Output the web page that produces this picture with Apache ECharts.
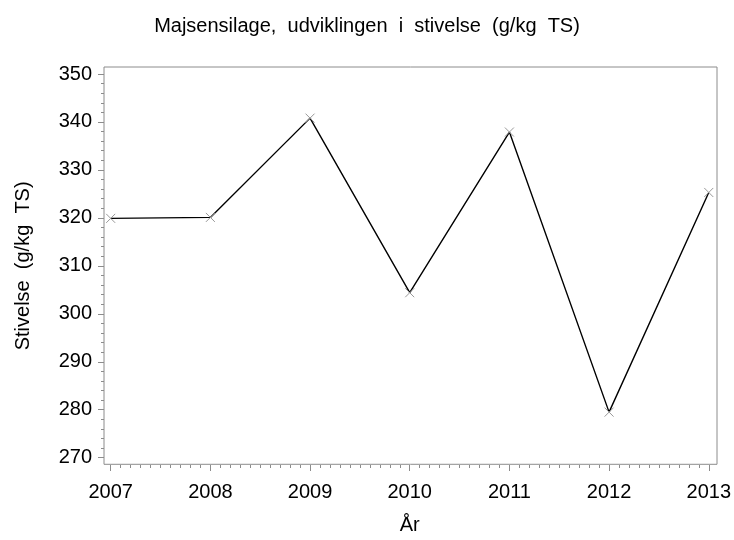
<!DOCTYPE html>
<html>
<head>
<meta charset="utf-8">
<script src="https://cdn.jsdelivr.net/npm/echarts@6/dist/echarts.min.js"></script>
<style>
  html, body { margin: 0; padding: 0; background: #fff; }
  #chart { width: 734px; height: 540px; }
</style>
</head>
<body>
<div id="chart"></div>
<script>
// data
var years = [2007, 2008, 2009, 2010, 2011, 2012, 2013];
var starch = [319.9, 320.1, 340.8, 304.4, 337.9, 279.5, 325.3];

var titleText = 'Majsensilage,  udviklingen  i  stivelse  (g/kg  TS)';
var yName = 'Stivelse  (g/kg  TS)';
var xName = 'År';

var font = 'Liberation Sans, Arial, sans-serif';
var grey = '#8c8c8c';

var points = years.map(function (y, i) { return [y, starch[i]]; });

var myChart = echarts.init(document.getElementById('chart'));

var option = {
  animation: false,
  backgroundColor: '#fff',
  title: {
    text: titleText,
    left: 'center',
    top: 11,
    textStyle: { fontFamily: font, fontSize: 20, fontWeight: 'normal', color: '#000' }
  },
  grid: [
    // data grid: 2007..2013 x 270..350
    { left: 110.7, right: 23.3, top: 74, bottom: 82.3 },
    // frame only
    { left: 104, right: 17, top: 67, bottom: 75.7, show: true, borderColor: grey, borderWidth: 1 }
  ],
  xAxis: [{
    type: 'value',
    gridIndex: 0,
    min: 2007,
    max: 2013,
    interval: 1,
    offset: 7.3,
    name: xName,
    nameLocation: 'middle',
    nameGap: 50,
    nameTextStyle: { fontFamily: font, fontSize: 20, color: '#000' },
    axisLine: { show: false },
    axisTick: { show: true, length: 6, lineStyle: { color: grey } },
    minorTick: { show: true, splitNumber: 10, length: 3, lineStyle: { color: grey } },
    splitLine: { show: false },
    axisLabel: {
      fontFamily: font, fontSize: 20, color: '#000', margin: 17,
      formatter: function (v) { return String(v); }
    }
  }, {
    type: 'value', gridIndex: 1, show: false
  }],
  yAxis: [{
    type: 'value',
    gridIndex: 0,
    min: 270,
    max: 350,
    interval: 10,
    offset: 6.7,
    name: yName,
    nameLocation: 'middle',
    nameGap: 71,
    nameTextStyle: { fontFamily: font, fontSize: 20, color: '#000' },
    axisLine: { show: false },
    axisTick: { show: true, length: 6, lineStyle: { color: grey } },
    minorTick: { show: true, splitNumber: 5, length: 3, lineStyle: { color: grey } },
    splitLine: { show: false },
    axisLabel: { fontFamily: font, fontSize: 20, color: '#000', margin: 12 }
  }, {
    type: 'value', gridIndex: 1, show: false
  }],
  series: [{
    type: 'line',
    xAxisIndex: 0,
    yAxisIndex: 0,
    data: points,
    symbol: 'path://M0,0L10,10M10,0L0,10',
    symbolSize: 9,
    itemStyle: { color: 'none', borderColor: '#999', borderWidth: 1 },
    lineStyle: { color: '#000', width: 1.4 },
    emphasis: { disabled: true }
  }]
};

myChart.setOption(option);
</script>
</body>
</html>
